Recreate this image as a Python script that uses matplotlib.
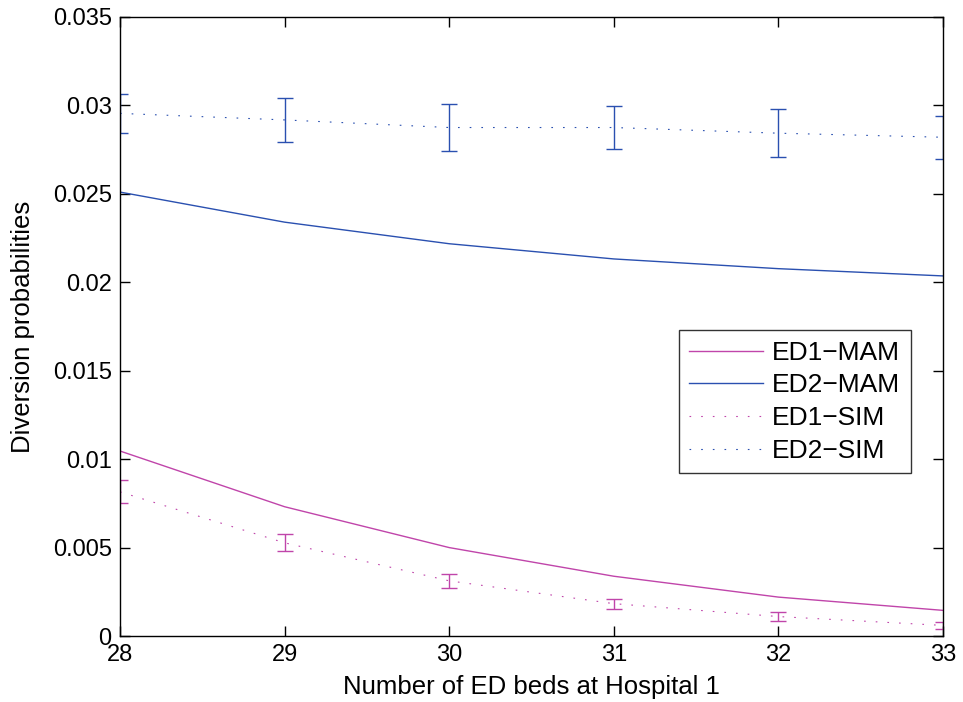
import matplotlib
matplotlib.use("Agg")
import matplotlib.pyplot as plt
from matplotlib.lines import Line2D

plt.rcParams['font.family'] = ['Liberation Sans', 'DejaVu Sans']

beds = [28, 29, 30, 31, 32, 33]
ed1_mam = [0.01046, 0.00731, 0.00500, 0.00338, 0.00220, 0.00145]
ed2_mam = [0.02510, 0.02340, 0.02218, 0.02132, 0.02077, 0.02036]
ed1_sim = [0.00815, 0.00527, 0.00312, 0.00183, 0.00110, 0.00060]
ed1_err = [0.00065, 0.00048, 0.00040, 0.00029, 0.00026, 0.00020]
ed2_sim = [0.02955, 0.02918, 0.02875, 0.02875, 0.02843, 0.02820]
ed2_err = [0.00112, 0.00122, 0.00132, 0.00120, 0.00135, 0.00122]
labels = ['ED1\u2212MAM', 'ED2\u2212MAM', 'ED1\u2212SIM', 'ED2\u2212SIM']

c1 = '#c045aa'
c2 = '#2a50b0'
dots = (0, (1.5, 9))

fig = plt.figure(figsize=(9.63, 7.02), dpi=100)
ax = fig.add_axes([0.1246, 0.094, 0.8546, 0.8818])

ax.plot(beds, ed1_mam, color=c1, lw=1.0)
ax.plot(beds, ed2_mam, color=c2, lw=1.0)
ax.errorbar(beds, ed1_sim, yerr=ed1_err, color=c1, lw=0.8, ls=dots,
            ecolor=c1, elinewidth=1.0, capsize=6, capthick=1.0)
ax.errorbar(beds, ed2_sim, yerr=ed2_err, color=c2, lw=0.8, ls=dots,
            ecolor=c2, elinewidth=1.0, capsize=6, capthick=1.0)

ax.set_xlim(28, 33)
ax.set_ylim(0, 0.035)
ax.set_xticks(beds)
ax.set_yticks([0, 0.005, 0.01, 0.015, 0.02, 0.025, 0.03, 0.035])
ax.set_yticklabels(['0', '0.005', '0.01', '0.015', '0.02', '0.025', '0.03', '0.035'])
ax.tick_params(direction='in', top=True, right=True, labelsize=17, length=7, width=1)
ax.tick_params(axis='x', pad=6)
ax.tick_params(axis='y', pad=6)
for s in ax.spines.values():
    s.set_linewidth(1.0)
ax.set_xlabel('Number of ED beds at Hospital 1', fontsize=18.5, labelpad=6)
ax.set_ylabel('Diversion probabilities', fontsize=18.5, labelpad=13)

hs = [Line2D([], [], color=c1, lw=1.0),
      Line2D([], [], color=c2, lw=1.0),
      Line2D([], [], color=c1, lw=0.8, ls=dots),
      Line2D([], [], color=c2, lw=0.8, ls=dots)]
leg = ax.legend(hs, labels, loc='upper right', bbox_to_anchor=(0.961, 0.494),
                borderaxespad=0, fontsize=19, frameon=True, fancybox=False,
                edgecolor='black', handlelength=2.8, borderpad=0.4,
                labelspacing=0.33, handletextpad=0.35)
leg.get_frame().set_linewidth(1.0)

fig.savefig('out.png', dpi=100)
